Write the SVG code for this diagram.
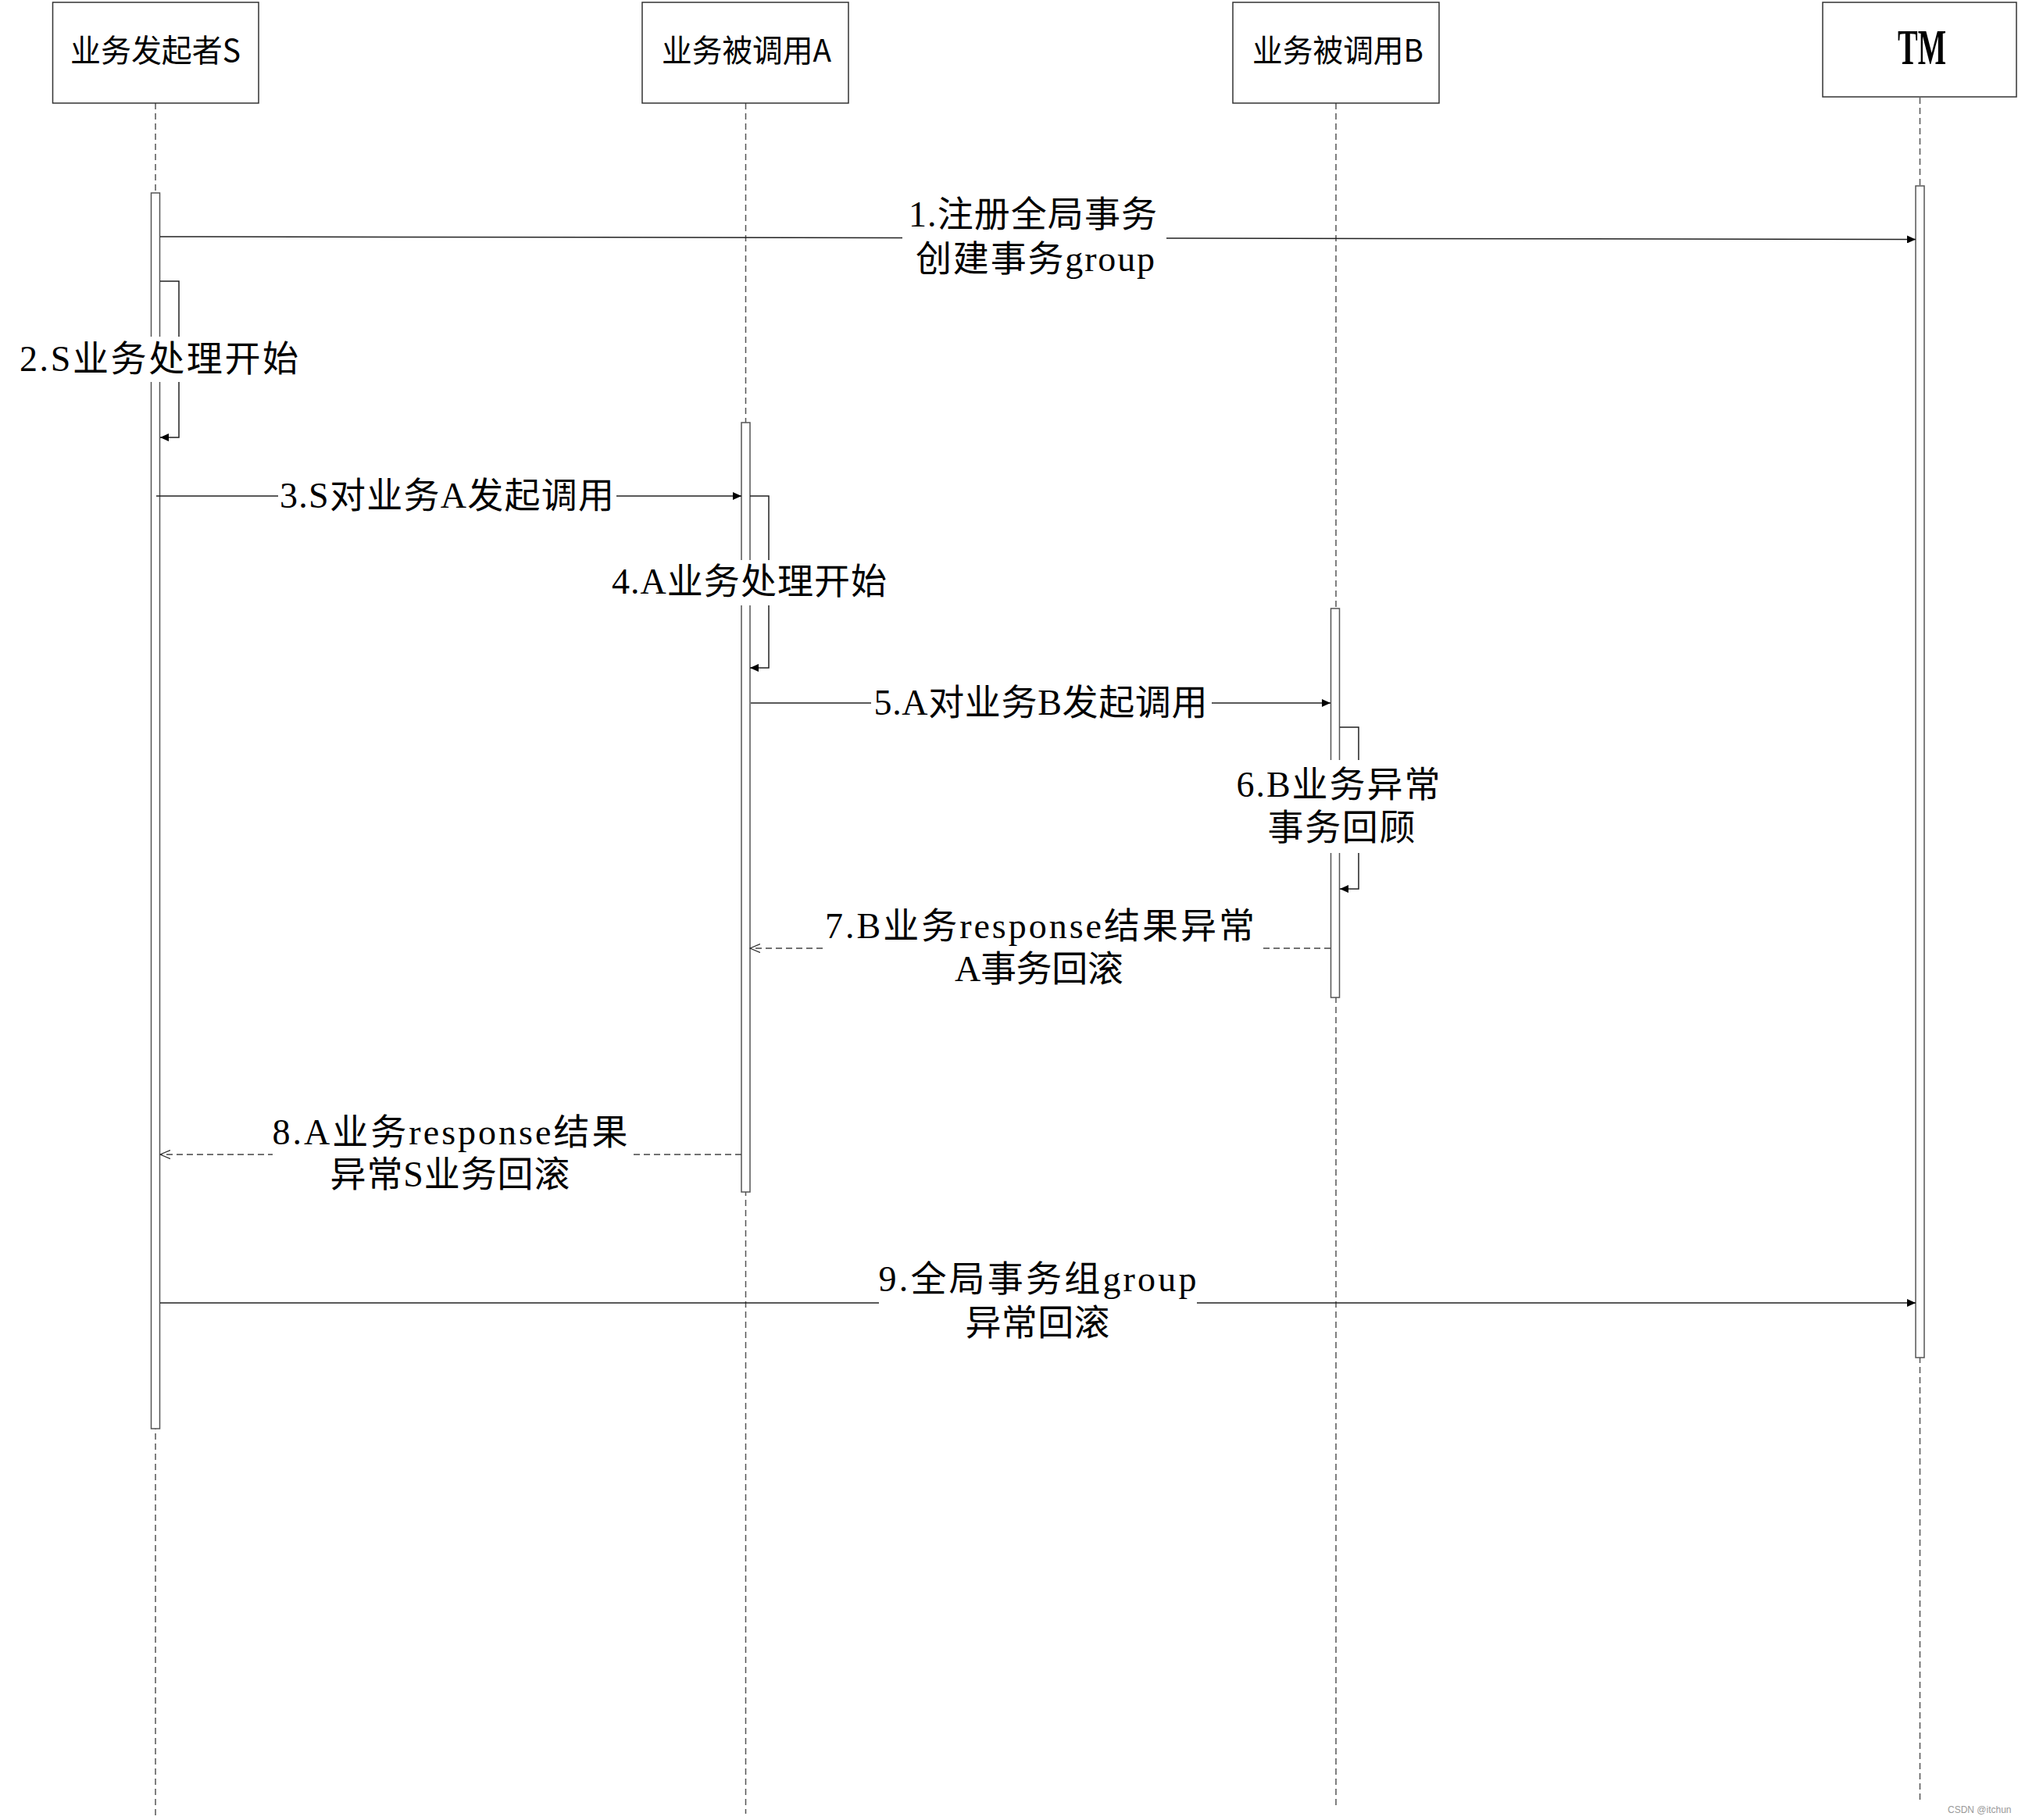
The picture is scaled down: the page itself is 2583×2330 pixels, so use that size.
<svg xmlns="http://www.w3.org/2000/svg" width="2583" height="2330" viewBox="0 0 2583 2330">
<defs>
<style>
.box{fill:#fff;stroke:#333;stroke-width:1.5}
.life{stroke:#555;stroke-width:1.5;stroke-dasharray:8 5;fill:none}
.bar{fill:#fff;stroke:#555;stroke-width:1.5}
.msg{stroke:#222;stroke-width:1.5;fill:none}
.ret{stroke:#444;stroke-width:1.5;fill:none;stroke-dasharray:8 5}
.bg{fill:#fff;stroke:none}
.hd{font-family:"Noto Sans CJK SC","Liberation Sans",sans-serif;font-size:40px;fill:#000;text-anchor:middle}
.tm{font-family:"Liberation Serif",serif;font-size:64px;font-weight:bold;fill:#000;text-anchor:middle}
.lb{font-family:"Liberation Serif","Noto Sans CJK SC",serif;font-size:46px;fill:#000;text-anchor:middle}
.wm{font-family:"Liberation Sans",sans-serif;font-size:12px;fill:#999}
</style>
<marker id="fa" markerWidth="12" markerHeight="10" refX="11" refY="5" orient="auto" markerUnits="userSpaceOnUse">
<path d="M0,0 L11,5 L0,10 z" fill="#000"/>
</marker>
<marker id="oa" markerWidth="14" markerHeight="12" refX="13" refY="6" orient="auto" markerUnits="userSpaceOnUse">
<path d="M0,0.5 L13,6 L0,11.5" fill="none" stroke="#333" stroke-width="1.3"/>
</marker>
</defs>
<rect width="2583" height="2330" fill="#fff"/>

<g id="lifelines">
<line class="life" x1="199" y1="132" x2="199" y2="2324"/>
<line class="life" x1="954.5" y1="132" x2="954.5" y2="2322"/>
<line class="life" x1="1710" y1="132" x2="1710" y2="2316"/>
<line class="life" x1="2457.5" y1="125" x2="2457.5" y2="2307"/>
</g>

<g id="node-S">
<rect class="box" x="67.5" y="3" width="263.5" height="129"/>
<text class="hd" x="199" y="79" textLength="218" lengthAdjust="spacingAndGlyphs">业务发起者S</text>
</g>
<g id="node-A">
<rect class="box" x="822" y="3" width="264" height="129"/>
<text class="hd" x="955.5" y="79" textLength="217" lengthAdjust="spacingAndGlyphs">业务被调用A</text>
</g>
<g id="node-B">
<rect class="box" x="1578" y="3" width="264" height="129"/>
<text class="hd" x="1712.5" y="79" textLength="219" lengthAdjust="spacingAndGlyphs">业务被调用B</text>
</g>
<g id="node-TM">
<rect class="box" x="2333" y="3" width="248" height="121"/>
<text class="tm" x="2460" y="82" textLength="62" lengthAdjust="spacingAndGlyphs">TM</text>
</g>

<g id="activations">
<rect class="bar" x="193.5" y="247" width="11" height="1582"/>
<rect class="bar" x="949" y="541" width="11" height="985"/>
<rect class="bar" x="1703.5" y="779" width="11" height="498"/>
<rect class="bar" x="2452" y="238" width="11" height="1500"/>
</g>

<g id="connectors">
<path class="msg" d="M205,303 L2452,306.5" marker-end="url(#fa)"/>
<path class="msg" d="M205,360 H229 V560 H205" marker-end="url(#fa)"/>
<path class="msg" d="M200,635 H949" marker-end="url(#fa)"/>
<path class="msg" d="M960,635 H984 V855 H960" marker-end="url(#fa)"/>
<path class="msg" d="M961,900 H1703" marker-end="url(#fa)"/>
<path class="msg" d="M1715,931 H1739 V1138 H1715" marker-end="url(#fa)"/>
<path class="ret" d="M1703,1214 H960" marker-end="url(#oa)"/>
<path class="ret" d="M949,1478 H205" marker-end="url(#oa)"/>
<path class="msg" d="M205,1668 H2452" marker-end="url(#fa)"/>

<rect class="bg" x="1155" y="252" width="338" height="108"/>
<text class="lb" x="1322" y="290" textLength="318">1.注册全局事务</text>
<text class="lb" x="1325" y="347" textLength="306">创建事务group</text>

<rect class="bg" x="20" y="431" width="368" height="58"/>
<text class="lb" x="203.5" y="475" textLength="357">2.S业务处理开始</text>

<rect class="bg" x="356" y="608" width="433" height="52"/>
<text class="lb" x="572" y="650" textLength="428">3.S对业务A发起调用</text>

<rect class="bg" x="778" y="717" width="362" height="58"/>
<text class="lb" x="959" y="760" textLength="352">4.A业务处理开始</text>

<rect class="bg" x="1115" y="875" width="436" height="50"/>
<text class="lb" x="1332" y="915" textLength="427">5.A对业务B发起调用</text>

<rect class="bg" x="1578" y="973" width="272" height="119"/>
<text class="lb" x="1713" y="1020" textLength="261">6.B业务异常</text>
<text class="lb" x="1717" y="1075" textLength="189">事务回顾</text>

<rect class="bg" x="1057" y="1165" width="555" height="105"/>
<text class="lb" x="1331" y="1201" textLength="550">7.B业务response结果异常</text>
<text class="lb" x="1330" y="1256" textLength="216">A事务回滚</text>

<rect class="bg" x="349" y="1430" width="458" height="100"/>
<text class="lb" x="576" y="1465" textLength="455">8.A业务response结果</text>
<text class="lb" x="576" y="1519" textLength="307">异常S业务回滚</text>

<rect class="bg" x="1125" y="1618" width="407" height="104"/>
<text class="lb" x="1328" y="1653" textLength="407">9.全局事务组group</text>
<text class="lb" x="1328" y="1709" textLength="185">异常回滚</text>
</g>

<text class="wm" x="2493" y="2321">CSDN @itchun</text>
</svg>
